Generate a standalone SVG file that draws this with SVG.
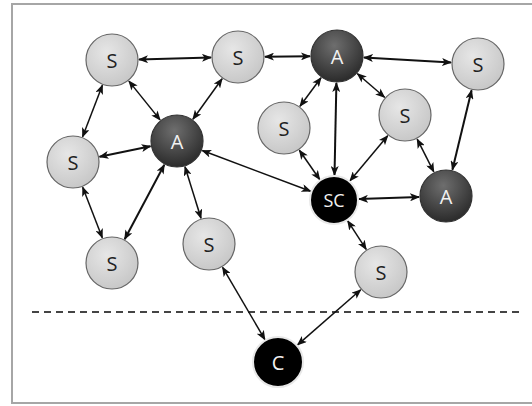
<svg xmlns="http://www.w3.org/2000/svg" width="532" height="406" viewBox="0 0 532 406">
<defs>
<style>
.frame{fill:none;stroke:#a6a6a6;stroke-width:2}
.e{stroke:#111;stroke-width:1.5;fill:none;marker-start:url(#ah);marker-end:url(#ah)}
.t{stroke-width:2}
.s{fill:url(#gs);stroke:#666;stroke-width:1.2}
.a{fill:url(#ga);stroke:#333;stroke-width:1.2}
.b{fill:#000;stroke:#e8e8e8;stroke-width:2}
.lbl{font-family:"Open Sans","Liberation Sans",sans-serif;font-size:20px;text-anchor:middle;dominant-baseline:central}
.ls{fill:#222}
.la{fill:#f2f2f2}
.dash{stroke:#444;stroke-width:2;stroke-dasharray:7 5}
</style>
<radialGradient id="gs" cx="0.4" cy="0.35" r="0.7">
<stop offset="0" stop-color="#e6e6e6"/>
<stop offset="1" stop-color="#c6c6c6"/>
</radialGradient>
<radialGradient id="ga" cx="0.45" cy="0.3" r="0.75">
<stop offset="0" stop-color="#6e6e6e"/>
<stop offset="1" stop-color="#262626"/>
</radialGradient>
<marker id="ah" viewBox="0 0 10 8" refX="9" refY="4" markerWidth="10" markerHeight="8" markerUnits="userSpaceOnUse" orient="auto-start-reverse">
<path d="M0,0 L10,4 L0,8 L2.5,4 z" fill="#111"/>
</marker>
</defs>
<rect x="0" y="0" width="532" height="406" fill="#fff"/>
<path class="frame" d="M532,4 H12 V403 H532"/>
<line class="dash" x1="32" y1="312" x2="520" y2="312"/>
<g id="connectors">
<line class="e t" x1="139" y1="59.4" x2="211" y2="57.6"/>
<line class="e" x1="102.4" y1="85.2" x2="82.6" y2="136.8"/>
<line class="e" x1="128.9" y1="81.1" x2="160.1" y2="119.9"/>
<line class="e" x1="222.1" y1="78.8" x2="192.9" y2="119.2"/>
<line class="e t" x1="265" y1="56.7" x2="310" y2="56.3"/>
<line class="e t" x1="364" y1="57.5" x2="451" y2="62.5"/>
<line class="e" x1="321" y1="77.7" x2="300" y2="106.3"/>
<line class="e" x1="357.4" y1="73.7" x2="384.6" y2="97.3"/>
<line class="e t" x1="336.4" y1="83" x2="334.5" y2="175"/>
<line class="e t" x1="471.6" y1="90.2" x2="452.4" y2="169.8"/>
<line class="e" x1="417.2" y1="139.1" x2="433.8" y2="171.9"/>
<line class="e" x1="387.7" y1="135.7" x2="350" y2="180.8"/>
<line class="e" x1="299.4" y1="150.2" x2="319.7" y2="179.5"/>
<line class="e" x1="202.3" y1="150.5" x2="310.6" y2="191.2"/>
<line class="e t" x1="419" y1="197" x2="359" y2="199.1"/>
<line class="e t" x1="99.5" y1="156.7" x2="150.5" y2="146.3"/>
<line class="e" x1="82.7" y1="187.2" x2="102.3" y2="237.8"/>
<line class="e t" x1="164.3" y1="164.8" x2="124.7" y2="239.2"/>
<line class="e" x1="185" y1="166.8" x2="201" y2="218.2"/>
<line class="e" x1="347.7" y1="220.9" x2="366.2" y2="249.4"/>
<line class="e" x1="222.6" y1="267.3" x2="264.9" y2="339.6"/>
<line class="e" x1="360.7" y1="289.8" x2="297.6" y2="344.9"/>
</g>
<g id="s1"><circle class="s" cx="112" cy="60" r="26"/><text class="lbl ls" x="112" y="60">S</text></g>
<g id="s2"><circle class="s" cx="238" cy="57" r="26"/><text class="lbl ls" x="238" y="57">S</text></g>
<g id="a1"><circle class="a" cx="337" cy="56" r="26"/><text class="lbl la" x="337" y="56">A</text></g>
<g id="s3"><circle class="s" cx="478" cy="64" r="26"/><text class="lbl ls" x="478" y="64">S</text></g>
<g id="s4"><circle class="s" cx="284" cy="128" r="26"/><text class="lbl ls" x="284" y="128">S</text></g>
<g id="s5"><circle class="s" cx="405" cy="115" r="26"/><text class="lbl ls" x="405" y="115">S</text></g>
<g id="a2"><circle class="a" cx="177" cy="141" r="26"/><text class="lbl la" x="177" y="141">A</text></g>
<g id="s6"><circle class="s" cx="73" cy="162" r="26"/><text class="lbl ls" x="73" y="162">S</text></g>
<g id="sc"><circle class="b" cx="334" cy="200" r="24"/><text class="lbl la" x="334" y="200" style="font-size:18px">SC</text></g>
<g id="a3"><circle class="a" cx="446" cy="196" r="26"/><text class="lbl la" x="446" y="196">A</text></g>
<g id="s7"><circle class="s" cx="112" cy="263" r="26"/><text class="lbl ls" x="112" y="263">S</text></g>
<g id="s8"><circle class="s" cx="209" cy="244" r="26"/><text class="lbl ls" x="209" y="244">S</text></g>
<g id="s9"><circle class="s" cx="381" cy="272" r="26"/><text class="lbl ls" x="381" y="272">S</text></g>
<g id="c"><circle class="b" cx="278" cy="362" r="25"/><text class="lbl la" x="278" y="362">C</text></g>
</svg>
